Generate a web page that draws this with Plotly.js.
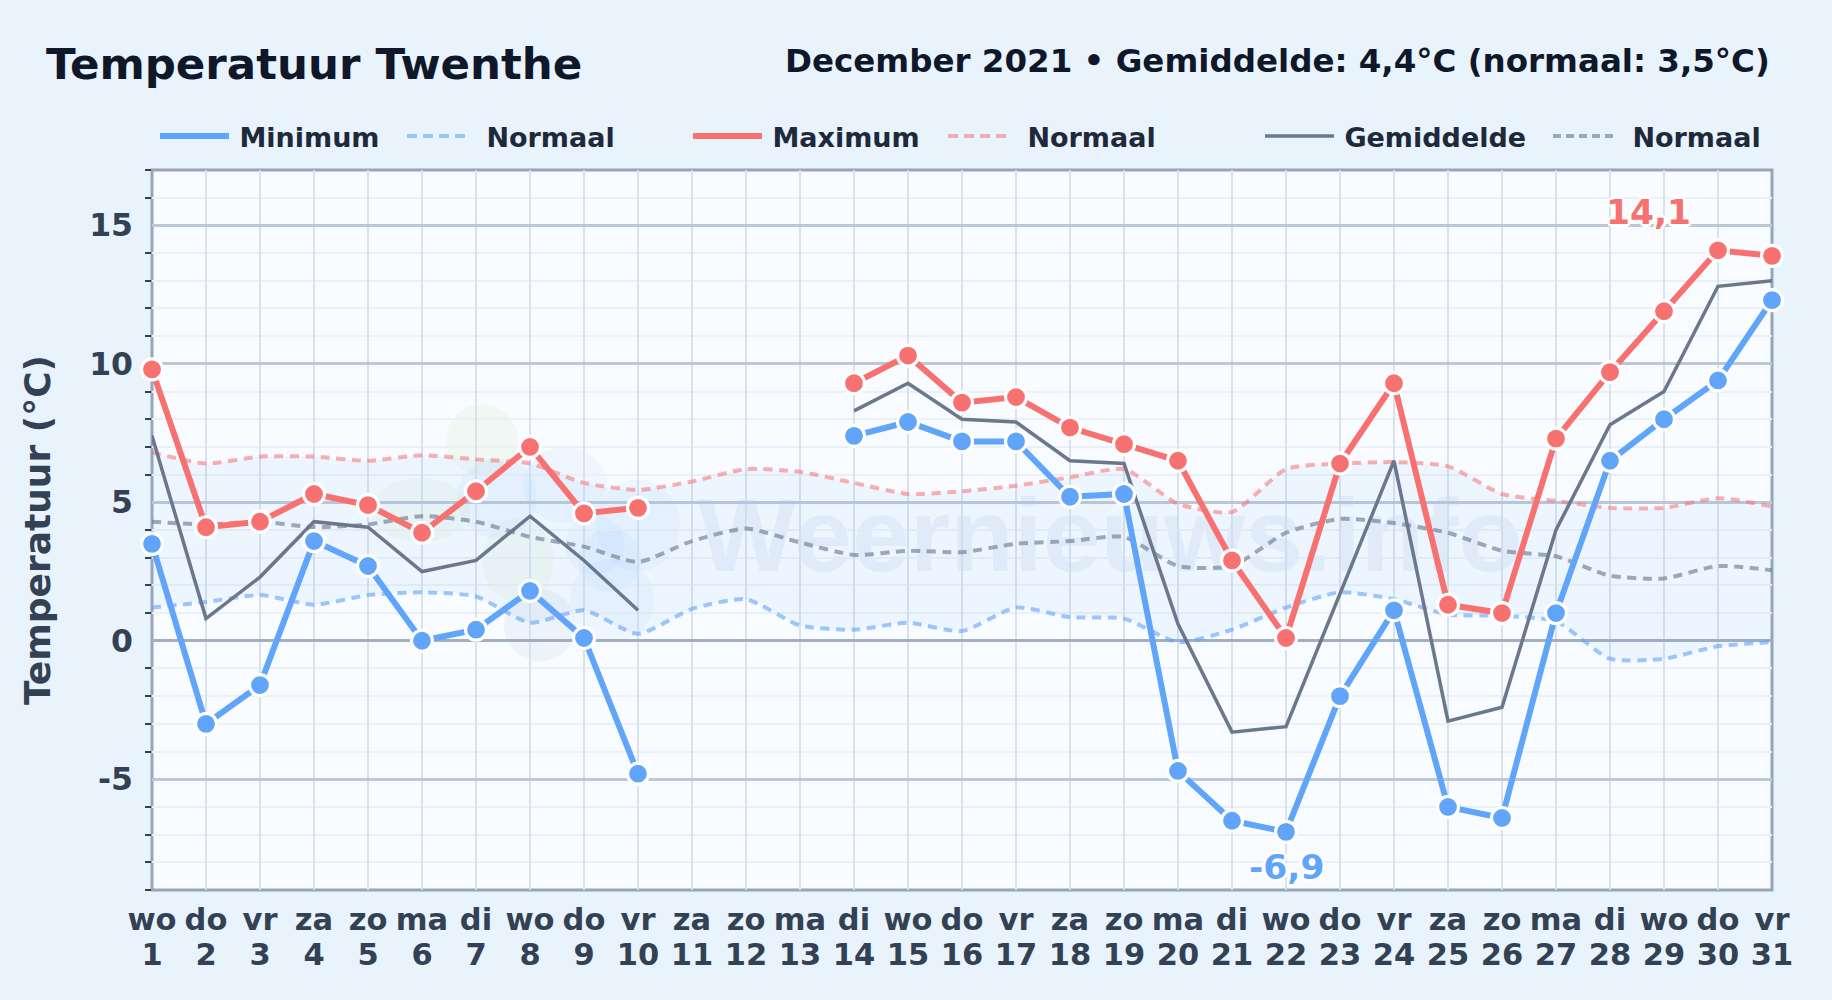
<!DOCTYPE html>
<html>
<head>
<meta charset="utf-8">
<script src="https://cdn.plot.ly/plotly-3.0.1.min.js"></script>
<style>html,body{margin:0;padding:0;background:#e9f3fc}</style>
</head>
<body>
<div id="chart" style="width:1832px;height:1000px"></div>
<script>
const days = [1,2,3,4,5,6,7,8,9,10,11,12,13,14,15,16,17,18,19,20,21,22,23,24,25,26,27,28,29,30,31];
const weekdays = ['wo','do','vr','za','zo','ma','di','wo','do','vr','za','zo','ma','di','wo','do','vr','za','zo','ma','di','wo','do','vr','za','zo','ma','di','wo','do','vr'];
const minimum = [3.5,-3.0,-1.6,3.6,2.7,0.0,0.4,1.8,0.1,-4.8,null,null,null,7.4,7.9,7.2,7.2,5.2,5.3,-4.7,-6.5,-6.9,-2.0,1.1,-6.0,-6.4,1.0,6.5,8.0,9.4,12.3];
const maximum = [9.8,4.1,4.3,5.3,4.9,3.9,5.4,7.0,4.6,4.8,null,null,null,9.3,10.3,8.6,8.8,7.7,7.1,6.5,2.9,0.1,6.4,9.3,1.3,1.0,7.3,9.7,11.9,14.1,13.9];
const gemiddelde = [7.4,0.8,2.3,4.3,4.1,2.5,2.9,4.5,2.9,1.1,null,null,null,8.3,9.3,8.0,7.9,6.5,6.4,0.6,-3.3,-3.1,1.7,6.5,-2.9,-2.4,4.0,7.8,9.0,12.8,13.0];
const normaalMin = [1.2,1.4,1.65,1.3,1.65,1.75,1.6,0.65,1.1,0.25,1.15,1.5,0.55,0.4,0.65,0.35,1.2,0.85,0.8,-0.05,0.4,1.2,1.75,1.5,0.95,0.9,0.7,-0.65,-0.65,-0.2,-0.05];
const normaalMax = [6.8,6.4,6.65,6.65,6.5,6.7,6.55,6.4,5.7,5.45,5.75,6.2,6.1,5.7,5.3,5.4,5.6,5.9,6.2,4.95,4.65,6.2,6.4,6.45,6.3,5.3,5.05,4.8,4.8,5.15,4.85];
const normaalGem = [4.3,4.2,4.3,4.1,4.2,4.5,4.3,3.75,3.4,2.85,3.6,4.05,3.55,3.1,3.25,3.2,3.5,3.6,3.75,2.7,2.7,3.9,4.4,4.25,3.9,3.25,3.05,2.35,2.25,2.7,2.55];
const yTickValues = [-5,0,5,10,15];
const yTickLabels = ['-5','0','5','10','15'];

const FONT = '"DejaVu Sans", sans-serif';
const PL=152, PR=1772, PT=169.5, PB=890;
const px = v => (v-PL)/(PR-PL);
const py = v => (PB-v)/(PB-PT);

// logo blobs of the watermark: centre x, centre y, radius x, radius y (pixels), colour
const blue='rgba(96,165,250,0.055)', green='rgba(190,225,150,0.10)', slate='rgba(100,140,190,0.07)';
const logoBlobs = [
  [482,440,36,36,green],[420,510,50,32,green],[518,560,36,42,green],
  [497,498,40,40,blue],[565,485,42,38,blue],[595,545,30,30,blue],
  [540,625,36,36,slate],[612,600,42,42,blue],[638,525,42,46,blue],[610,560,32,32,blue]
];
const shapes = [{type:'rect',xref:'paper',yref:'paper',layer:'below',x0:0,x1:1,y0:0,y1:1,
  fillcolor:'rgba(0,0,0,0)',line:{color:'#98a5b8',width:3}}];
logoBlobs.forEach(b=>shapes.push({type:'circle',xref:'paper',yref:'paper',layer:'below',
  x0:px(b[0]-b[2]),x1:px(b[0]+b[2]),y0:py(b[1]+b[3]),y1:py(b[1]-b[3]),fillcolor:b[4],line:{width:0}}));
shapes.push({type:'rect',xref:'paper',yref:'paper',layer:'below',x0:px(660),x1:px(1560),y0:py(600),y1:py(450),
  fillcolor:'rgba(0,0,0,0)',line:{width:0},
  label:{text:'Weernieuws.info',textposition:'middle center',
    font:{family:'"Liberation Sans", sans-serif',size:104,weight:700,color:'rgba(90,135,190,0.09)'}}});

const DASH='9px,6.5px';
const legendTrace=(name,color,width,dash,lg)=>({x:[null],y:[null],type:'scatter',mode:'lines',name,
  line:{color,width,dash},legend:lg,showlegend:true,hoverinfo:'skip'});
const lineTrace=(y,color,width)=>({x:days,y,type:'scatter',mode:'lines',line:{color,width},showlegend:false,cliponaxis:false,connectgaps:false});
const markTrace=(y,color,width)=>({x:days,y,type:'scatter',mode:'lines+markers',line:{color,width},
  marker:{color,size:21,line:{color:'#ffffff',width:3.2}},showlegend:false,cliponaxis:false,connectgaps:false});
const normTrace=(y,color)=>({x:days,y,type:'scatter',mode:'lines',line:{color,width:4,dash:DASH,shape:'spline',smoothing:0.6},showlegend:false});

const cMin='rgba(96,165,250,0.6)', cMax='rgba(248,113,113,0.55)', cGem='rgba(100,116,139,0.6)';
const LG4='10px,6px,10px,6px,10px,6px,10px,200px', LG5='8px,5px,8px,5px,8px,5px,8px,5px,8px,200px';
const data=[
  {x:days,y:normaalMin,type:'scatter',mode:'lines',line:{width:0,shape:'spline',smoothing:0.6},showlegend:false,hoverinfo:'skip'},
  {x:days,y:normaalMax,type:'scatter',mode:'lines',line:{width:0,shape:'spline',smoothing:0.6},fill:'tonexty',fillcolor:'rgba(96,165,250,0.07)',showlegend:false,hoverinfo:'skip'},
  normTrace(normaalMin,cMin),
  normTrace(normaalMax,cMax),
  normTrace(normaalGem,cGem),
  lineTrace(gemiddelde,'#6b778c',3.5),
  markTrace(minimum,'#60a5fa',6),
  markTrace(maximum,'#f87171',6),
  {x:days,y:days.map(()=>null),xaxis:'x2',type:'scatter',mode:'lines',showlegend:false,hoverinfo:'skip'},
  legendTrace('\u2009Minimum','#60a5fa',6,'solid','legend'),
  legendTrace('\u2009Normaal',cMin,4,LG4,'legend'),
  legendTrace('\u2009Maximum','#f87171',6,'solid','legend2'),
  legendTrace('\u2009Normaal',cMax,4,LG4,'legend2'),
  legendTrace('\u2009Gemiddelde','#6b778c',3.5,'solid','legend3'),
  legendTrace('\u2009Normaal',cGem,4,LG5,'legend3')
];
const legendBase=(x,entrywidth)=>({orientation:'h',x:px(x),xanchor:'left',y:py(136),yanchor:'middle',
  itemwidth:69,entrywidth,entrywidthmode:'pixels',bgcolor:'rgba(0,0,0,0)',borderwidth:0,
  font:{family:FONT,size:27,color:'#1e293b',weight:700},traceorder:'normal',itemclick:false,itemdoubleclick:false});

const maxIdx=maximum.indexOf(Math.max(...maximum.filter(v=>v!==null)));
const minIdx=minimum.indexOf(Math.min(...minimum.filter(v=>v!==null)));
const halo='3px 0 0 #fff,-3px 0 0 #fff,0 3px 0 #fff,0 -3px 0 #fff,2px 2px 0 #fff,-2px 2px 0 #fff,2px -2px 0 #fff,-2px -2px 0 #fff';
const tickFontX={family:FONT,size:30.5,color:'#334155',weight:700};

const layout={
  width:1832,height:1000,
  paper_bgcolor:'#e9f3fc',plot_bgcolor:'#f8fbff',
  margin:{l:PL,r:1832-PR,t:PT,b:1000-PB,autoexpand:false},
  font:{family:FONT},
  title:{text:'Temperatuur Twenthe',x:46/1832,xanchor:'left',xref:'container',y:1-64/1000,yanchor:'middle',yref:'container',
    font:{family:FONT,size:43.5,color:'#0f172a',weight:700}},
  showlegend:true,
  legend:legendBase(155,163),legend2:legendBase(688,171),legend3:legendBase(1260,204),
  xaxis:{type:'linear',range:[1,31],tickmode:'array',tickvals:days,ticktext:weekdays,ticks:'',ticklabelstandoff:8,
    showgrid:true,gridcolor:'#d9e1ec',gridwidth:2,zeroline:false,showline:false,
    tickangle:0,tickfont:tickFontX},
  xaxis2:{type:'linear',overlaying:'x',side:'bottom',anchor:'y',range:[1,31],tickmode:'array',tickvals:days,ticktext:days.map(String),ticks:'',ticklabelstandoff:43,
    showgrid:false,zeroline:false,showline:false,tickangle:0,tickfont:tickFontX},
  yaxis:{range:[-9,17],tickmode:'array',tickvals:yTickValues,ticktext:yTickLabels,ticks:'',ticklabelstandoff:18,
    showgrid:true,gridcolor:'#bcc8d9',gridwidth:3,
    zeroline:true,zerolinecolor:'#a3afc0',zerolinewidth:3,showline:false,
    minor:{tickmode:'array',tickvals:[-9,-8,-7,-6,-4,-3,-2,-1,1,2,3,4,6,7,8,9,11,12,13,14,16,17],showgrid:true,gridcolor:'#ebf0f6',gridwidth:2,ticks:'outside',ticklen:6,tickwidth:1.6,tickcolor:'#334155'},
    tickfont:{family:FONT,size:31.5,color:'#334155',weight:700},
    title:{text:'Temperatuur (°C)',standoff:27,font:{family:FONT,size:36,color:'#334155',weight:700}}},
  shapes,
  annotations:[
    {xref:'paper',yref:'paper',x:1,y:py(60),xanchor:'right',yanchor:'middle',showarrow:false,
     text:'December 2021 • Gemiddelde: 4,4°C (normaal: 3,5°C)',font:{family:FONT,size:32.5,color:'#0f172a',weight:700}},
    {xref:'x',yref:'y',x:days[maxIdx],y:maximum[maxIdx],xshift:-70,yshift:38,showarrow:false,
     text:String(maximum[maxIdx]).replace('.',','),font:{family:FONT,size:34.5,color:'#f87171',weight:700,shadow:halo}},
    {xref:'x',yref:'y',x:days[minIdx],y:minimum[minIdx],yshift:-35,showarrow:false,
     text:String(minimum[minIdx]).replace('.',','),font:{family:FONT,size:34.5,color:'#60a5fa',weight:700,shadow:halo}}
  ]
};
Plotly.newPlot('chart',data,layout,{displayModeBar:false,responsive:false});
</script>
</body>
</html>
